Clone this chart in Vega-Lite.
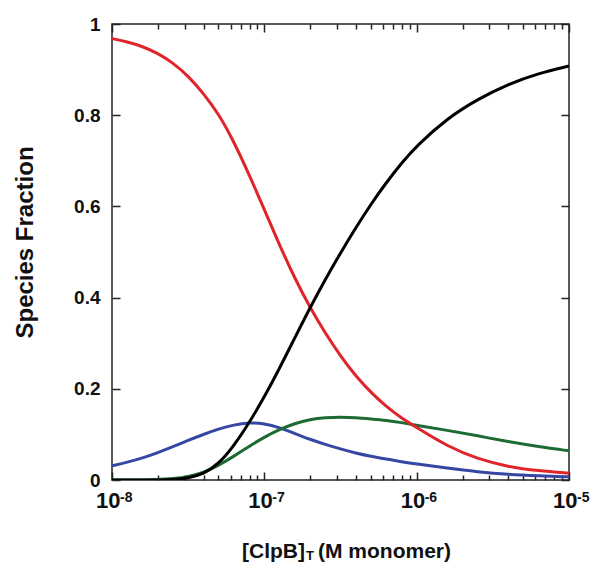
{
  "$schema": "https://vega.github.io/schema/vega-lite/v6.json",
  "width": 457,
  "height": 456,
  "autosize": {"type": "none"},
  "padding": {"left": 112, "top": 24, "right": 21, "bottom": 85},
  "background": "white",
  "config": {
    "view": {"stroke": "#222", "strokeWidth": 1.5},
    "axis": {"domain": false, "grid": false, "labelFont": "Liberation Sans", "titleFont": "Liberation Sans", "labelFontWeight": "bold", "labelColor": "#111", "titleColor": "#111", "tickColor": "#222", "tickWidth": 1.5},
    "text": {"font": "Liberation Sans", "fontWeight": "bold", "color": "#111"}
  },
  "datasets": {
    "curves": [
      {"c": 1e-8, "s": "blue", "f": 0.031}, {"c": 1.259e-8, "s": "blue", "f": 0.039}, {"c": 1.585e-8, "s": "blue", "f": 0.048}, {"c": 1.995e-8, "s": "blue", "f": 0.060}, {"c": 2.512e-8, "s": "blue", "f": 0.073}, {"c": 3.162e-8, "s": "blue", "f": 0.087}, {"c": 3.981e-8, "s": "blue", "f": 0.100}, {"c": 5.012e-8, "s": "blue", "f": 0.112}, {"c": 6.310e-8, "s": "blue", "f": 0.121}, {"c": 7.943e-8, "s": "blue", "f": 0.126}, {"c": 1e-7, "s": "blue", "f": 0.124}, {"c": 1.259e-7, "s": "blue", "f": 0.115}, {"c": 1.585e-7, "s": "blue", "f": 0.102}, {"c": 1.995e-7, "s": "blue", "f": 0.089}, {"c": 2.512e-7, "s": "blue", "f": 0.078}, {"c": 3.162e-7, "s": "blue", "f": 0.068}, {"c": 3.981e-7, "s": "blue", "f": 0.059}, {"c": 5.012e-7, "s": "blue", "f": 0.052}, {"c": 6.310e-7, "s": "blue", "f": 0.046}, {"c": 7.943e-7, "s": "blue", "f": 0.040}, {"c": 1e-6, "s": "blue", "f": 0.035}, {"c": 1.585e-6, "s": "blue", "f": 0.026}, {"c": 2.512e-6, "s": "blue", "f": 0.018}, {"c": 3.981e-6, "s": "blue", "f": 0.012}, {"c": 6.310e-6, "s": "blue", "f": 0.009}, {"c": 1e-5, "s": "blue", "f": 0.007},
      {"c": 1e-8, "s": "green", "f": 0.000}, {"c": 1.259e-8, "s": "green", "f": 0.000}, {"c": 1.585e-8, "s": "green", "f": 0.000}, {"c": 1.995e-8, "s": "green", "f": 0.001}, {"c": 2.512e-8, "s": "green", "f": 0.003}, {"c": 3.162e-8, "s": "green", "f": 0.007}, {"c": 3.981e-8, "s": "green", "f": 0.016}, {"c": 5.012e-8, "s": "green", "f": 0.032}, {"c": 6.310e-8, "s": "green", "f": 0.052}, {"c": 7.943e-8, "s": "green", "f": 0.074}, {"c": 1e-7, "s": "green", "f": 0.094}, {"c": 1.259e-7, "s": "green", "f": 0.111}, {"c": 1.585e-7, "s": "green", "f": 0.124}, {"c": 1.995e-7, "s": "green", "f": 0.133}, {"c": 2.512e-7, "s": "green", "f": 0.137}, {"c": 3.162e-7, "s": "green", "f": 0.138}, {"c": 3.981e-7, "s": "green", "f": 0.137}, {"c": 5.012e-7, "s": "green", "f": 0.134}, {"c": 6.310e-7, "s": "green", "f": 0.131}, {"c": 7.943e-7, "s": "green", "f": 0.126}, {"c": 1e-6, "s": "green", "f": 0.120}, {"c": 1.585e-6, "s": "green", "f": 0.109}, {"c": 2.512e-6, "s": "green", "f": 0.097}, {"c": 3.981e-6, "s": "green", "f": 0.084}, {"c": 6.310e-6, "s": "green", "f": 0.073}, {"c": 1e-5, "s": "green", "f": 0.064},
      {"c": 1e-8, "s": "red", "f": 0.968}, {"c": 1.259e-8, "s": "red", "f": 0.961}, {"c": 1.585e-8, "s": "red", "f": 0.951}, {"c": 1.995e-8, "s": "red", "f": 0.936}, {"c": 2.512e-8, "s": "red", "f": 0.915}, {"c": 3.162e-8, "s": "red", "f": 0.886}, {"c": 3.981e-8, "s": "red", "f": 0.848}, {"c": 5.012e-8, "s": "red", "f": 0.803}, {"c": 6.310e-8, "s": "red", "f": 0.742}, {"c": 7.943e-8, "s": "red", "f": 0.670}, {"c": 1e-7, "s": "red", "f": 0.593}, {"c": 1.259e-7, "s": "red", "f": 0.515}, {"c": 1.585e-7, "s": "red", "f": 0.442}, {"c": 1.995e-7, "s": "red", "f": 0.378}, {"c": 2.512e-7, "s": "red", "f": 0.322}, {"c": 3.162e-7, "s": "red", "f": 0.272}, {"c": 3.981e-7, "s": "red", "f": 0.228}, {"c": 5.012e-7, "s": "red", "f": 0.192}, {"c": 6.310e-7, "s": "red", "f": 0.161}, {"c": 7.943e-7, "s": "red", "f": 0.136}, {"c": 1e-6, "s": "red", "f": 0.115}, {"c": 1.585e-6, "s": "red", "f": 0.074}, {"c": 2.512e-6, "s": "red", "f": 0.046}, {"c": 3.981e-6, "s": "red", "f": 0.029}, {"c": 6.310e-6, "s": "red", "f": 0.020}, {"c": 1e-5, "s": "red", "f": 0.015},
      {"c": 1e-8, "s": "black", "f": 0.000}, {"c": 1.259e-8, "s": "black", "f": 0.000}, {"c": 1.585e-8, "s": "black", "f": 0.000}, {"c": 1.995e-8, "s": "black", "f": 0.000}, {"c": 2.512e-8, "s": "black", "f": 0.001}, {"c": 3.162e-8, "s": "black", "f": 0.004}, {"c": 3.981e-8, "s": "black", "f": 0.013}, {"c": 5.012e-8, "s": "black", "f": 0.035}, {"c": 6.310e-8, "s": "black", "f": 0.075}, {"c": 7.943e-8, "s": "black", "f": 0.125}, {"c": 1e-7, "s": "black", "f": 0.182}, {"c": 1.259e-7, "s": "black", "f": 0.245}, {"c": 1.585e-7, "s": "black", "f": 0.312}, {"c": 1.995e-7, "s": "black", "f": 0.378}, {"c": 2.512e-7, "s": "black", "f": 0.440}, {"c": 3.162e-7, "s": "black", "f": 0.498}, {"c": 3.981e-7, "s": "black", "f": 0.553}, {"c": 5.012e-7, "s": "black", "f": 0.605}, {"c": 6.310e-7, "s": "black", "f": 0.652}, {"c": 7.943e-7, "s": "black", "f": 0.695}, {"c": 1e-6, "s": "black", "f": 0.733}, {"c": 1.585e-6, "s": "black", "f": 0.793}, {"c": 2.512e-6, "s": "black", "f": 0.835}, {"c": 3.981e-6, "s": "black", "f": 0.868}, {"c": 6.310e-6, "s": "black", "f": 0.892}, {"c": 1e-5, "s": "black", "f": 0.908}
    ],
    "exps": [
      {"v": 1e-8, "e": "-8"}, {"v": 1e-7, "e": "-7"}, {"v": 1e-6, "e": "-6"}, {"v": 1e-5, "e": "-5"}
    ]
  },
  "layer": [
    {
      "data": {"name": "curves"},
      "mark": {"type": "line", "strokeWidth": 3, "interpolate": "basis", "clip": true},
      "encoding": {
        "x": {
          "field": "c", "type": "quantitative",
          "scale": {"type": "log", "domain": [1e-8, 1e-5], "nice": false},
          "axis": {
            "orient": "bottom",
            "values": [1e-8, 2e-8, 3e-8, 4e-8, 5e-8, 6e-8, 7e-8, 8e-8, 9e-8, 1e-7, 2e-7, 3e-7, 4e-7, 5e-7, 6e-7, 7e-7, 8e-7, 9e-7, 1e-6, 2e-6, 3e-6, 4e-6, 5e-6, 6e-6, 7e-6, 8e-6, 9e-6, 1e-5],
            "tickSize": {"condition": {"test": "abs(log(datum.value)/LN10 - round(log(datum.value)/LN10)) < 0.01", "value": -8}, "value": -5},
            "labelExpr": "abs(log(datum.value)/LN10 - round(log(datum.value)/LN10)) < 0.01 ? '10' : ''",
            "labelFontSize": 22, "labelAlign": "right", "labelOffset": 8, "labelPadding": 18, "labelBaseline": "top",
            "labelFlush": false, "labelOverlap": false, "labelBound": false,
            "title": null
          }
        },
        "y": {
          "field": "f", "type": "quantitative",
          "scale": {"domain": [0, 1], "nice": false},
          "axis": {
            "orient": "left",
            "values": [0, 0.2, 0.4, 0.6, 0.8, 1],
            "tickSize": -8,
            "labelExpr": "datum.value == 0 ? '0' : (datum.value > 0.99 ? '1' : format(datum.value, '.1f'))",
            "labelFontSize": 19, "labelPadding": 20, "labelFlush": false, "labelOverlap": false, "labelBound": false,
            "title": "Species Fraction", "titleFontSize": 24, "titleFontWeight": "bold",
            "titleAngle": -90, "titleX": -80, "titleY": 218, "titleBaseline": "alphabetic", "titleAlign": "center"
          }
        },
        "color": {
          "field": "s", "type": "nominal",
          "scale": {"domain": ["blue", "green", "red", "black"], "range": ["#3647a3", "#1d6b34", "#e1242c", "#000000"]},
          "legend": null
        }
      }
    },
    {
      "data": {"name": "curves"},
      "mark": {"type": "line", "opacity": 0},
      "encoding": {
        "x": {
          "field": "c", "type": "quantitative",
          "scale": {"type": "log", "domain": [1e-8, 1e-5], "nice": false},
          "axis": {
            "orient": "top",
            "values": [1e-8, 2e-8, 3e-8, 4e-8, 5e-8, 6e-8, 7e-8, 8e-8, 9e-8, 1e-7, 2e-7, 3e-7, 4e-7, 5e-7, 6e-7, 7e-7, 8e-7, 9e-7, 1e-6, 2e-6, 3e-6, 4e-6, 5e-6, 6e-6, 7e-6, 8e-6, 9e-6, 1e-5],
            "tickSize": {"condition": {"test": "abs(log(datum.value)/LN10 - round(log(datum.value)/LN10)) < 0.01", "value": -8}, "value": -5},
            "labels": false, "title": null
          }
        },
        "y": {
          "field": "f", "type": "quantitative",
          "scale": {"domain": [0, 1], "nice": false},
          "axis": {"orient": "right", "values": [0, 0.2, 0.4, 0.6, 0.8, 1], "tickSize": -8, "labels": false, "title": null}
        }
      }
    },
    {
      "data": {"name": "exps"},
      "mark": {"type": "text", "align": "left", "baseline": "alphabetic", "dx": 8, "dy": 22, "fontSize": 14},
      "encoding": {
        "x": {"field": "v", "type": "quantitative", "scale": {"type": "log", "domain": [1e-8, 1e-5], "nice": false}, "axis": null},
        "y": {"datum": 0, "type": "quantitative", "scale": {"domain": [0, 1], "nice": false}, "axis": null},
        "text": {"field": "e"}
      }
    },
    {
      "data": {"values": [{}]},
      "mark": {"type": "text", "align": "right", "baseline": "alphabetic", "fontSize": 21},
      "encoding": {
        "x": {"datum": 1.849e-7, "type": "quantitative", "scale": {"type": "log", "domain": [1e-8, 1e-5], "nice": false}, "axis": null},
        "y": {"datum": -0.171, "type": "quantitative", "scale": {"domain": [0, 1], "nice": false}, "axis": null},
        "text": {"value": "[ClpB]"}
      }
    },
    {
      "data": {"values": [{}]},
      "mark": {"type": "text", "align": "left", "baseline": "alphabetic", "fontSize": 13, "dx": 1},
      "encoding": {
        "x": {"datum": 1.849e-7, "type": "quantitative", "scale": {"type": "log", "domain": [1e-8, 1e-5], "nice": false}, "axis": null},
        "y": {"datum": -0.1754, "type": "quantitative", "scale": {"domain": [0, 1], "nice": false}, "axis": null},
        "text": {"value": "T"}
      }
    },
    {
      "data": {"values": [{}]},
      "mark": {"type": "text", "align": "left", "baseline": "alphabetic", "fontSize": 21},
      "encoding": {
        "x": {"datum": 2.252e-7, "type": "quantitative", "scale": {"type": "log", "domain": [1e-8, 1e-5], "nice": false}, "axis": null},
        "y": {"datum": -0.171, "type": "quantitative", "scale": {"domain": [0, 1], "nice": false}, "axis": null},
        "text": {"value": "(M monomer)"}
      }
    }
  ],
  "resolve": {"axis": {"x": "independent", "y": "independent"}}
}
